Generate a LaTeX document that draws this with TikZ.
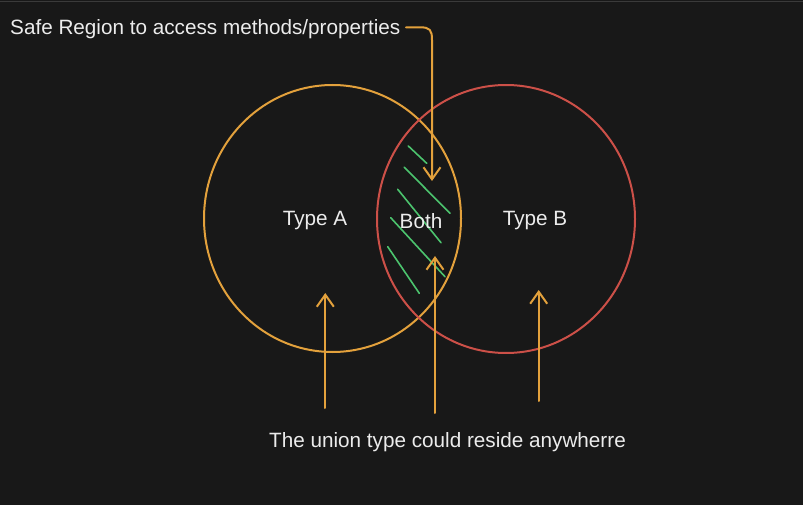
\documentclass[tikz,border=0pt]{standalone}
\usepackage{fontspec}
\setmainfont{Liberation Sans}
\usetikzlibrary{arrows.meta,shapes.geometric}
\definecolor{bgc}{HTML}{181818}
\definecolor{topline}{HTML}{3A3A3A}
\definecolor{ora}{HTML}{E3A13C}
\definecolor{redc}{HTML}{CC5048}
\definecolor{grn}{HTML}{4CC46E}
\definecolor{txt}{HTML}{ECECEC}
\tikzset{
  lbl/.style={text=txt, font=\fontsize{20.7}{24}\selectfont, inner sep=0pt},
  ring/.style={ellipse, draw, line width=2pt, minimum width=#1, inner sep=0pt},
  pointer/.style={draw=ora, line width=2pt, line cap=round, line join=round,
    -{Straight Barb[length=12pt,width=17pt,line width=2pt]}},
  hatch/.style={draw=grn, line width=1.6pt, line cap=round}
}
\begin{document}
\begin{tikzpicture}[x=1pt,y=-1pt]
\fill[bgc] (0,0) rectangle (803,505);
\useasboundingbox (0,0) rectangle (803,505);
\draw[topline, line width=1.2pt] (0,1.5) -- (803,1.5);
% circles
\node[ring=257pt, draw=ora, minimum height=267pt] (ca) at (332.5,218.5) {};
\node[ring=258pt, draw=redc, minimum height=268pt] (cb) at (506,219) {};
% hatching
\draw[hatch] (408.3,146) -- (426.7,163.3);
\draw[hatch] (404.3,167.3) -- (450,213.3);
\draw[hatch] (397.7,189.3) -- (441,242.7);
\draw[hatch] (390.7,217.7) -- (445,276.7);
\draw[hatch] (387.7,246.7) -- (419.3,293.3);
% labels
\node[lbl, anchor=west] (safe) at (10,29) {Safe Region to access methods/properties};
\node[lbl] (ta) at (315,221) {Type A};
\node[lbl] (both) at (421,221) {Both};
\node[lbl] (tb) at (535,221) {Type B};
\node[lbl] (union) at (447.5,442) {The union type could reside anywherre};
% arrows
\coordinate (safetip) at (432,181);
\draw[pointer] (406,27.3) -- (420,27.3) .. controls (430,27.3) and (432,30) .. (432,40) -- (safetip);
\coordinate (mbot) at (435,413);
\coordinate (mtip) at (435,256);
\draw[pointer] (mbot) -- (mtip);
\coordinate (lbot) at (325.3,408);
\coordinate (ltip) at (325.3,293);
\draw[pointer] (lbot) -- (ltip);
\coordinate (rbot) at (538.7,401);
\coordinate (rtip) at (538.7,290);
\draw[pointer] (rbot) -- (rtip);
\end{tikzpicture}
\end{document}
